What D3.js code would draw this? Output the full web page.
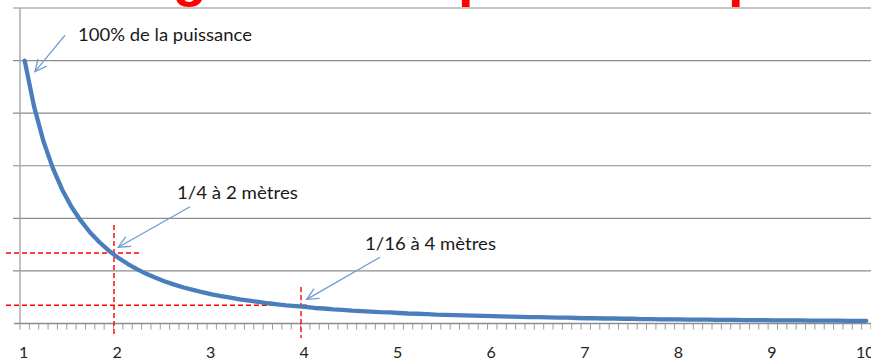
<!DOCTYPE html>
<html><head><meta charset="utf-8">
<script src="https://cdn.jsdelivr.net/npm/d3@7"></script>
<style>html,body{margin:0;padding:0;background:#fff;overflow:hidden}</style>
</head><body><svg id="c" width="871" height="362"></svg>
<script>
// distance in metres (categories)
const distances = [1.0,1.1,1.2,1.3,1.4,1.5,1.6,1.7,1.8,1.9,2.0,2.1,2.2,2.3,2.4,2.5,2.6,2.7,2.8,2.9,
  3.0,3.1,3.2,3.3,3.4,3.5,3.6,3.7,3.8,3.9,4.0,4.1,4.2,4.3,4.4,4.5,4.6,4.7,4.8,4.9,
  5.0,5.1,5.2,5.3,5.4,5.5,5.6,5.7,5.8,5.9,6.0,6.1,6.2,6.3,6.4,6.5,6.6,6.7,6.8,6.9,
  7.0,7.1,7.2,7.3,7.4,7.5,7.6,7.7,7.8,7.9,8.0,8.1,8.2,8.3,8.4,8.5,8.6,8.7,8.8,8.9,
  9.0,9.1,9.2,9.3,9.4,9.5,9.6,9.7,9.8,9.9,10.0];
// power (% of initial)
const power = [100,82.6,69.4,59.2,51.0,44.4,39.1,34.6,30.9,27.7,25.0,22.7,20.7,18.9,17.4,16.0,14.8,13.7,12.8,11.9,
  11.1,10.4,9.8,9.2,8.7,8.2,7.7,7.3,6.9,6.6,6.3,5.9,5.7,5.4,5.2,4.9,4.7,4.5,4.3,4.2,
  4.0,3.8,3.7,3.6,3.4,3.3,3.2,3.1,3.0,2.9,2.8,2.7,2.6,2.5,2.4,2.4,2.3,2.2,2.2,2.1,
  2.0,2.0,1.9,1.9,1.8,1.8,1.7,1.7,1.6,1.6,1.6,1.5,1.5,1.5,1.4,1.4,1.4,1.3,1.3,1.3,
  1.2,1.2,1.2,1.2,1.1,1.1,1.1,1.1,1.0,1.0,1.0];
const tickLabels = ["1","2","3","4","5","6","7","8","9","10"];
const yGrid = [0,20,40,60,80,100,120];

// annotations (in data units)
const notes = [
  {text:"100% de la puissance", w:174, tx:1.570, ty:107.3, ax:1.432, ay:109.7, bx:1.110, by:95.8},
  {text:"1/4 à 2 mètres",       w:121, tx:2.628, ty:47.2,  ax:2.768, ay:44.4,  bx:2.001, by:29.0},
  {text:"1/16 à 4 mètres",      w:131, tx:4.639, ty:27.9,  ax:4.799, ay:25.2,  bx:4.016, by:9.2}
];
const guides = [
  {x:1.955, y:26.8, x0:0.80, x1:2.254, y0:37.5, y1:-5.1},
  {x:3.955, y:6.92, x0:0.80, x1:4.051, y0:13.9, y1:-5.5}
];
const titleParts = [{t:"Énergie : ", x:48},{t:"puissance ", x:458},{t:"par mètre carré", x:728}];

const svg = d3.select("#c");
const W = 871;
const x = d3.scaleBand().domain(distances).range([20, 871]).paddingInner(0).paddingOuter(0);
const bw = x.bandwidth();
const cx = d => x(d) + bw/2;
const xl = d3.scaleLinear().domain([1,10]).range([cx(1), cx(10)]);
const y = d3.scaleLinear().domain([0,120]).range([323.5, 8]);

// title (cut off at top, as in the source slide)
const title = svg.append("text").attr("y", -5)
  .attr("font-family","Liberation Sans, Arial, sans-serif").attr("font-weight","bold")
  .attr("font-size",56).attr("fill","#ff0000");
title.selectAll("tspan").data(titleParts).join("tspan").attr("x", d=>d.x).text(d=>d.t);

// gridlines
svg.append("g").selectAll("line").data(yGrid.slice(1)).join("line")
  .attr("x1",13).attr("x2",W).attr("y1",d=>y(d)).attr("y2",d=>y(d))
  .attr("stroke","#8c8c8c").attr("stroke-width",1.2);

// y axis line
svg.append("line").attr("x1",20).attr("x2",20).attr("y1",y(120)).attr("y2",y(0))
  .attr("stroke","#a6a6a6").attr("stroke-width",1.4);

// x axis
svg.append("line").attr("x1",14).attr("x2",W).attr("y1",y(0)).attr("y2",y(0))
  .attr("stroke","#8c8c8c").attr("stroke-width",1.4);
const bounds = distances.map(d => x(d)).concat([x.range()[1]]);
svg.append("g").selectAll("line").data(bounds).join("line")
  .attr("x1",d=>d).attr("x2",d=>d).attr("y1",y(0)).attr("y2",y(0)+6)
  .attr("stroke","#9a9a9a").attr("stroke-width",1);
svg.append("g").selectAll("text").data(tickLabels).join("text")
  .attr("x", d => cx(+d) - 1).attr("y", 358).attr("text-anchor","middle")
  .attr("font-family","Lato, sans-serif").attr("font-size",16).attr("fill","#222")
  .text(d=>d);

// red guides
const gg = svg.append("g").attr("stroke","#ff0000").attr("stroke-width",1.4).attr("stroke-dasharray","5,3");
guides.forEach(g => {
  gg.append("line").attr("x1",xl(g.x)).attr("x2",xl(g.x)).attr("y1",y(g.y0)).attr("y2",y(g.y1));
  gg.append("line").attr("x1",xl(g.x0)).attr("x2",xl(g.x1)).attr("y1",y(g.y)).attr("y2",y(g.y));
});

// curve
const line = d3.line().x((d,i)=>cx(distances[i])).y(d=>y(d));
svg.append("path").datum(power).attr("d", line).attr("fill","none")
  .attr("stroke","#4a7ebb").attr("stroke-width",4.3).attr("stroke-linejoin","round").attr("stroke-linecap","round");

// arrows + labels
const arrowColor = "#6f9bd1";
notes.forEach(n => {
  const x1 = xl(n.ax), y1 = y(n.ay), x2 = xl(n.bx), y2 = y(n.by);
  svg.append("line").attr("x1",x1).attr("y1",y1).attr("x2",x2).attr("y2",y2)
    .attr("stroke",arrowColor).attr("stroke-width",1.3);
  const ang = Math.atan2(y1-y2, x1-x2), L = 13, spread = 0.45;
  const p1 = [x2 + L*Math.cos(ang+spread), y2 + L*Math.sin(ang+spread)];
  const p2 = [x2 + L*Math.cos(ang-spread), y2 + L*Math.sin(ang-spread)];
  svg.append("path").attr("d", `M${p1}L${x2},${y2}L${p2}`).attr("fill","none")
    .attr("stroke",arrowColor).attr("stroke-width",1.3);
  svg.append("text").attr("x",xl(n.tx)).attr("y",y(n.ty))
    .attr("font-family","Lato, sans-serif").attr("font-size",18).attr("fill","#1a1a1a")
    .attr("textLength", n.w).attr("lengthAdjust","spacingAndGlyphs")
    .text(n.text);
});
</script></body></html>
